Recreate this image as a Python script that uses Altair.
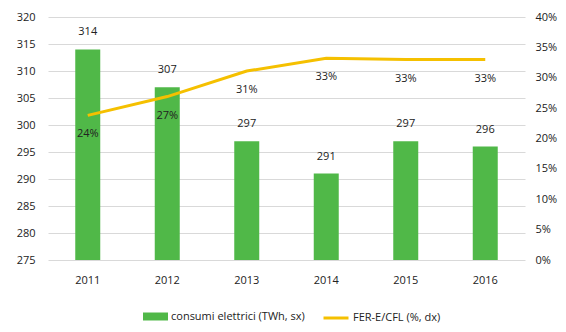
import altair as alt
import pandas as pd

years = ["2011", "2012", "2013", "2014", "2015", "2016"]
consumi = [314, 307, 297, 291, 297, 296]
fer = [0.238, 0.269, 0.311, 0.332, 0.330, 0.330]
fer_labels = ["24%", "27%", "31%", "33%", "33%", "33%"]
left_ticks = [275, 280, 285, 290, 295, 300, 305, 310, 315, 320]
right_ticks = [0, 0.05, 0.10, 0.15, 0.20, 0.25, 0.30, 0.35, 0.40]

df = pd.DataFrame({
    "anno": years,
    "consumi": consumi,
    "fer": fer,
    "fer_lab": fer_labels,
    "s1": "consumi elettrici (TWh, sx)",
    "s2": "FER-E/CFL (%, dx)",
})

FONT = "Open Sans"
GREEN = "#50b848"
YELLOW = "#f5c000"
TXT = "#222222"

x = alt.X("anno:N", axis=alt.Axis(title=None, labelAngle=0, domain=False, ticks=False,
                                   labelPadding=14, labelFontSize=11, labelFont=FONT,
                                   labelColor=TXT, grid=False),
          scale=alt.Scale(paddingInner=0.0, paddingOuter=0.0))

yl = alt.Y("consumi:Q",
           scale=alt.Scale(domain=[275, 320], nice=False, zero=False),
           axis=alt.Axis(title=None, values=left_ticks, domain=False, ticks=False,
                         domainColor="transparent",
                         labelPadding=13, labelFontSize=11, labelFont=FONT, labelColor=TXT,
                         grid=True, gridColor="#d9d9d9", gridWidth=1))

yr = alt.Y("fer:Q",
           scale=alt.Scale(domain=[0, 0.4], nice=False),
           axis=alt.Axis(title=None, orient="right", values=right_ticks, format=".0%",
                         domain=False, ticks=False, domainColor="transparent",
                         labelPadding=10, labelFontSize=11,
                         labelFont=FONT, labelColor=TXT, grid=False))

base = alt.Chart(df)

bars = base.mark_bar(size=25).encode(
    x=x,
    y=yl,
    y2=alt.datum(275),
    color=alt.Color("s1:N", scale=alt.Scale(range=[GREEN]),
                    legend=alt.Legend(title=None, orient="none", legendX=95, legendY=287,
                                      symbolType="M-1,-0.32H1V0.32H-1Z", symbolSize=625,
                                      symbolStrokeWidth=0, labelFont=FONT, labelFontSize=11,
                                      labelColor=TXT, symbolOpacity=1, labelOffset=3)),
)

bar_text = base.mark_text(dy=-12, baseline="bottom", font=FONT, fontSize=11, color=TXT).encode(
    x=x, y=yl, text="consumi:Q",
)

left = alt.layer(bars, bar_text)

line = base.mark_line(strokeWidth=3).encode(
    x=x, y=yr,
    stroke=alt.Stroke("s2:N", scale=alt.Scale(range=[YELLOW]),
                      legend=alt.Legend(title=None, orient="none", legendX=274, legendY=287,
                                        symbolType="stroke", symbolSize=625, symbolStrokeWidth=3,
                                        labelFont=FONT, labelFontSize=11, labelColor=TXT,
                                        labelOffset=3)),
)

line_text = base.mark_text(dy=19, baseline="middle", font=FONT, fontSize=11, color=TXT).encode(
    x=x, y=yr, text="fer_lab:N",
)

right = alt.layer(line, line_text)

chart = alt.layer(left, right).resolve_scale(
    y="independent", color="independent", stroke="independent"
).properties(
    width=477, height=243,
    background="white",
    view=alt.ViewBackground(stroke="transparent", strokeWidth=0),
    autosize=alt.AutoSizeParams(type="none"),
    padding={"left": 48, "top": 17, "right": 41, "bottom": 72},
).configure(
    view=alt.ViewConfig(stroke="transparent", strokeWidth=0),
    axis=alt.AxisConfig(domain=False, ticks=False, domainColor="transparent"),
    style={"cell": {"stroke": "transparent"}},
)

chart.save("out.html", embed_options={"renderer": "svg", "actions": False})
